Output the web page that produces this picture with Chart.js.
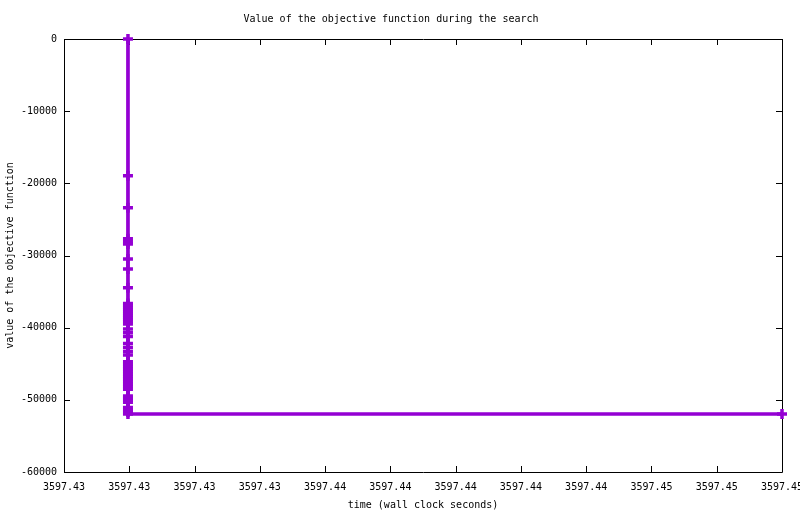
<!DOCTYPE html>
<html>
<head>
<meta charset="utf-8">
<title>Value of the objective function during the search</title>
<script src="https://cdn.jsdelivr.net/npm/chart.js@4"></script>
<style>
  html, body { margin: 0; padding: 0; background: #fff; }
  #wrap { width: 800px; height: 514px; position: relative; }
</style>
</head>
<body>
<div id="wrap"><canvas id="objChart"></canvas></div>
<script>
// wall clock seconds of each improvement (almost all at the same instant)
const times = [
    3597.42996, 3597.42996, 3597.42996, 3597.42996, 3597.42996, 3597.42996,
    3597.42996, 3597.42996, 3597.42996, 3597.42996, 3597.42996, 3597.42996,
    3597.42996, 3597.42996, 3597.42996, 3597.42996, 3597.42996, 3597.42996,
    3597.42996, 3597.42996, 3597.42996, 3597.42996, 3597.42996, 3597.42996,
    3597.42996, 3597.42996, 3597.42996, 3597.42996, 3597.42996, 3597.42996,
    3597.42996, 3597.42996, 3597.42996, 3597.42996, 3597.42996, 3597.42996,
    3597.42996, 3597.42996, 3597.42996, 3597.42996, 3597.42996, 3597.42996,
    3597.42996, 3597.42996, 3597.42996, 3597.42996, 3597.42996,
    3597.45
];

// objective value at each of those times
const objective = [
    0, -18940, -23380, -27670, -28100, -28400, -30490, -31870, -34460,
    -36640, -36930, -37210, -37480, -37760, -38040, -38310, -38590, -38870, -39150, -39490,
    -40190, -40720, -41240,
    -42180, -42740, -43290, -43790,
    -44720, -45040, -45380, -45730, -46070, -46420, -46770, -47110, -47460, -47810, -48150, -48540,
    -49470, -49750, -50030, -50340,
    -51050, -51410, -51690, -51960,
    -51960
];

// axis ticks
const xTicks = [3597.428, 3597.430, 3597.432, 3597.434, 3597.436, 3597.438,
                3597.440, 3597.442, 3597.444, 3597.446, 3597.448, 3597.450];
const yTicks = [0, -10000, -20000, -30000, -40000, -50000, -60000];

const monoFont = { family: "'DejaVu Sans Mono', 'Liberation Mono', monospace", size: 10 };
const violet = '#9400d3';

// gnuplot style frame: border box plus inward ticks on all four sides
const frameTicks = {
    id: 'frameTicks',
    beforeDatasetsDraw(chart) {
        const { ctx, chartArea: a, scales } = chart;
        const len = 6;
        ctx.save();
        ctx.strokeStyle = '#000';
        ctx.lineWidth = 1;
        ctx.beginPath();
        ctx.rect(Math.round(a.left) + 0.5, Math.round(a.top) + 0.5,
                 Math.round(a.right - a.left), Math.round(a.bottom - a.top));
        scales.x.ticks.forEach(t => {
            const px = Math.round(scales.x.getPixelForValue(t.value)) + 0.5;
            ctx.moveTo(px, a.bottom); ctx.lineTo(px, a.bottom - len);
            ctx.moveTo(px, a.top); ctx.lineTo(px, a.top + len);
        });
        scales.y.ticks.forEach(t => {
            const py = Math.round(scales.y.getPixelForValue(t.value)) + 0.5;
            ctx.moveTo(a.left, py); ctx.lineTo(a.left + len, py);
            ctx.moveTo(a.right, py); ctx.lineTo(a.right - len, py);
        });
        ctx.stroke();
        ctx.restore();
    }
};

const points = times.map((t, i) => ({ x: t, y: objective[i] }));

const ctx = document.getElementById('objChart').getContext('2d');
const objChart = new Chart(ctx, {
    type: 'scatter',
    data: {
        datasets: [{
            data: points,
            showLine: true,
            borderColor: violet,
            backgroundColor: violet,
            borderWidth: 3.7,
            pointStyle: 'cross',
            pointRadius: 5,
            pointBorderWidth: 3.5,
            pointBorderColor: violet,
            pointHoverRadius: 5,
            tension: 0,
            clip: false
        }]
    },
    options: {
        responsive: true,
        maintainAspectRatio: false,
        animation: false,
        layout: { padding: { left: 0, right: 18, top: 0, bottom: 0 } },
        plugins: {
            legend: { display: false },
            tooltip: { enabled: false },
            title: {
                display: true,
                text: 'Value of the objective function during the search',
                color: '#000',
                font: { ...monoFont, weight: 'normal' },
                padding: { top: 13, bottom: 14 }
            }
        },
        scales: {
            x: {
                type: 'linear',
                min: xTicks[0],
                max: xTicks[xTicks.length - 1],
                grid: { display: false, tickLength: 0 },
                border: { display: false },
                afterBuildTicks: scale => { scale.ticks = xTicks.map(v => ({ value: v })); },
                afterFit: scale => {
                    scale.height = 42;
                    scale.paddingLeft = 0;
                    scale.paddingRight = 0;
                },
                ticks: {
                    autoSkip: false,
                    maxRotation: 0,
                    padding: 9,
                    color: '#000',
                    font: monoFont,
                    callback: v => Number(v).toFixed(2)
                },
                title: {
                    display: true,
                    text: 'time (wall clock seconds)',
                    color: '#000',
                    font: monoFont,
                    padding: { top: 4, bottom: 3 }
                }
            },
            y: {
                type: 'linear',
                min: -60000,
                max: 0,
                grid: { display: false, tickLength: 0 },
                border: { display: false },
                afterBuildTicks: scale => { scale.ticks = yTicks.map(v => ({ value: v })); },
                afterFit: scale => {
                    scale.width = 64;
                    scale.paddingTop = 0;
                    scale.paddingBottom = 0;
                },
                ticks: {
                    padding: 7,
                    color: '#000',
                    font: monoFont,
                    callback: v => String(v)
                },
                title: {
                    display: true,
                    text: 'value of the objective function',
                    color: '#000',
                    font: monoFont
                }
            }
        }
    },
    plugins: [frameTicks]
});
</script>
</body>
</html>
